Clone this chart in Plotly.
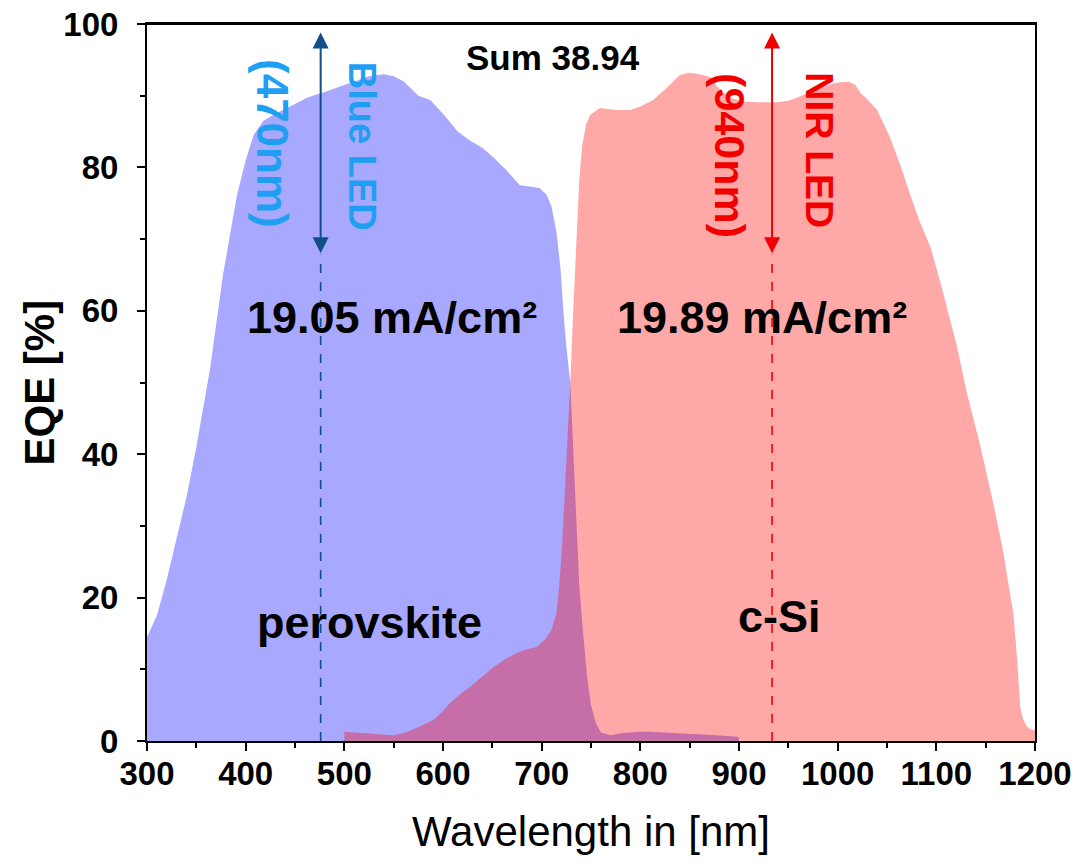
import plotly.graph_objects as go

# ---- data ----
perovskite_wl = [300, 310, 320, 333, 340, 350, 364, 377, 385, 391, 400, 408, 418, 430, 445, 462, 480,
                 495, 510, 525, 540, 550, 560, 575, 587, 600, 615, 627, 640, 651, 665, 678, 690, 698,
                 705, 710, 715, 719, 722, 725, 729, 732, 735, 738, 742, 746, 750, 755, 760, 770, 782,
                 800, 810, 825, 843, 860, 878, 898, 900]
perovskite_eqe = [14.5, 17.5, 22.5, 30, 34, 41, 52, 65, 71, 76, 81, 84.5, 86.5, 87.5, 88.5, 89.7, 90.5,
                  91.2, 92, 92.7, 93, 92.7, 92, 90, 89.4, 87.5, 85, 83.8, 82.7, 81.4, 79.5, 77.5, 77.3, 77.1,
                  76.2, 74.5, 71, 66, 60, 55, 50, 40, 30, 22, 15, 9, 5, 2.5, 1.2, 0.8, 1.1,
                  1.3, 1.3, 1.2, 1.0, 0.9, 0.8, 0.6, 0.5]

csi_wl = [500, 520, 535, 550, 562, 573, 590, 600, 607, 617, 627, 640, 651, 663, 675, 685, 695, 705,
          710, 715, 718, 721, 724, 727, 729, 732, 735, 738, 741, 745, 749, 759, 775, 790, 800, 813,
          826, 840, 850, 860, 871, 878, 891, 905, 918, 938, 950, 959, 972, 985, 995, 1005, 1012,
          1018, 1023, 1030, 1040, 1053, 1063, 1073, 1083, 1094, 1107, 1121, 1131, 1144, 1157,
          1167, 1174, 1178, 1182, 1185, 1188, 1192, 1196, 1200]
csi_eqe = [1.3, 1.1, 0.9, 0.8, 1.2, 1.8, 2.9, 4.2, 5.3, 6.5, 7.5, 9, 10.3, 11.4, 12.3, 12.8, 13.1, 14.4,
           15.5, 17.8, 22, 28, 36, 44, 50, 60, 70, 78, 83, 86, 87.3, 88.3, 88, 88, 88.5, 89.4,
           91, 92.9, 93.2, 93, 92.6, 91.2, 89.7, 89.2, 89.1, 89.1, 89.3, 89.7, 90.5, 91.2, 91.7, 91.9, 91.9,
           91.5, 90.4, 89.5, 88, 84.2, 80.5, 76.4, 72.5, 68.9, 62.5, 55, 48.5, 41.5, 33.6,
           27, 21, 17.8, 11.3, 4.7, 3, 2, 1.6, 1.5]

led_wl = [476, 933.5]          # drawn LED marker positions
led_names = ["Blue LED", "NIR LED"]
led_labels = ["(470nm)", "(940nm)"]
jsc_labels = ["19.05 mA/cm²", "19.89 mA/cm²"]
cell_names = ["perovskite", "c-Si"]
sum_label = "Sum 38.94"
x_title = "Wavelength in [nm]"
y_title = "EQE [%]"

FONT = "Arial, Liberation Sans, sans-serif"
BLUE_TXT = "#1E9FF2"
BLUE_DARK = "#124F88"
RED = "#F20000"

fig = go.Figure()
fig.add_trace(go.Scatter(x=perovskite_wl, y=perovskite_eqe, mode="lines", fill="tozeroy",
                         fillcolor="rgba(0,0,255,0.34)", line=dict(width=0, color="rgba(0,0,255,0.34)"),
                         name="perovskite", showlegend=False, hoverinfo="skip"))
fig.add_trace(go.Scatter(x=csi_wl, y=csi_eqe, mode="lines", fill="tozeroy",
                         fillcolor="rgba(255,0,0,0.34)", line=dict(width=0, color="rgba(255,0,0,0.34)"),
                         name="c-Si", showlegend=False, hoverinfo="skip"))

arrow_colors = [BLUE_DARK, RED]
text_colors = [BLUE_TXT, RED]
arrow_bottom = 67.8
arrow_top = 98.8

for i, wl in enumerate(led_wl):
    fig.add_shape(type="line", x0=wl, x1=wl, y0=0, y1=arrow_bottom, xref="x", yref="y",
                  line=dict(color=arrow_colors[i], width=1.6, dash="dash"))
    fig.add_annotation(x=wl, y=arrow_top, ax=wl, ay=arrow_bottom, xref="x", yref="y",
                       axref="x", ayref="y", text="", showarrow=True, arrowhead=2,
                       arrowside="end+start", arrowsize=1.6, arrowwidth=2,
                       arrowcolor=arrow_colors[i])

def bold(size, color):
    return dict(family=FONT, size=size, color=color, weight="bold")

fig.add_annotation(x=518, y=83, text=led_names[0], showarrow=False, textangle=90,
                   font=bold(38, text_colors[0]))
fig.add_annotation(x=427.7, y=83.4, text=led_labels[0], showarrow=False, textangle=90,
                   font=bold(44, text_colors[0]))
fig.add_annotation(x=982, y=82.4, text=led_names[1], showarrow=False, textangle=90,
                   font=bold(39, text_colors[1]))
fig.add_annotation(x=891, y=81.7, text=led_labels[1], showarrow=False, textangle=90,
                   font=bold(43, text_colors[1]))

fig.add_annotation(x=711.5, y=95.3, text=sum_label, showarrow=False, font=bold(35, "black"))
fig.add_annotation(x=548, y=59, text=jsc_labels[0], showarrow=False, font=bold(45, "black"))
fig.add_annotation(x=923, y=59, text=jsc_labels[1], showarrow=False, font=bold(45, "black"))
fig.add_annotation(x=525, y=16.5, text=cell_names[0], showarrow=False, font=bold(45, "black"))
fig.add_annotation(x=941.5, y=17.3, text=cell_names[1], showarrow=False, font=bold(45, "black"))

# y-axis title as a rotated annotation (placed like the reference)
fig.add_annotation(xref="paper", yref="paper", x=-0.1205, y=0.5, text=y_title, showarrow=False,
                   textangle=-90, xanchor="center", yanchor="middle", font=bold(42, "black"))

axis_common = dict(showline=True, linecolor="black", linewidth=2, mirror=True,
                   ticks="outside", ticklen=8, tickwidth=2, tickcolor="black",
                   showgrid=False, zeroline=False, automargin=False,
                   ticklabeloverflow="allow",
                   tickfont=dict(family=FONT, size=33, color="black", weight="bold"))

fig.update_xaxes(range=[300, 1200], tickvals=list(range(300, 1201, 100)),
                 minor=dict(ticks="outside", ticklen=5, tickwidth=1.5, tickcolor="black", dtick=50, tick0=300),
                 ticklabelstandoff=-6,
                 title=dict(text=x_title, font=dict(family=FONT, size=42, color="black"),
                            standoff=26),
                 **axis_common)
fig.update_yaxes(range=[0, 100], tickvals=list(range(0, 101, 20)),
                 minor=dict(ticks="outside", ticklen=5, tickwidth=1.5, tickcolor="black", dtick=10, tick0=0),
                 ticklabelstandoff=12,
                 **axis_common)

# frame line on top
fig.add_shape(type="line", xref="paper", yref="paper", x0=0, x1=1, y0=1, y1=1,
              line=dict(color="black", width=2), layer="above")

fig.update_layout(width=1079, height=862, margin=dict(l=147, r=44, t=24, b=121),
                  plot_bgcolor="white", paper_bgcolor="white", showlegend=False)

# remove the browser's default 8px body margin so the figure fills the window exactly
fig.write_html("out.html", config={"displayModeBar": False},
               post_script="document.body.style.margin='0';document.body.style.overflow='hidden';")
